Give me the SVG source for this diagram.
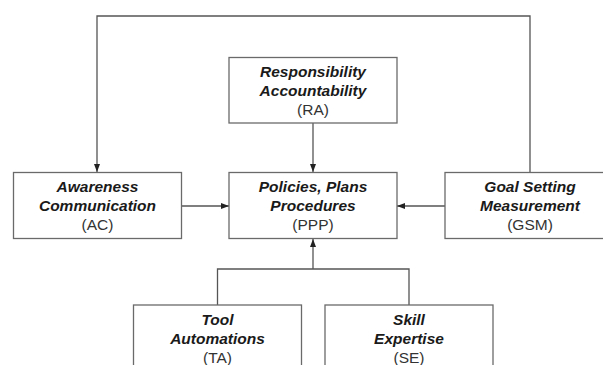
<svg xmlns="http://www.w3.org/2000/svg" width="603" height="365" viewBox="0 0 603 365">
<style>
.box{fill:#fff;stroke:#6a6a6a;stroke-width:1.3}
.t{font-family:"Liberation Sans",Arial,sans-serif;font-size:15.5px;text-anchor:middle;fill:#1a1a1a}
.b{font-weight:bold;font-style:italic}
.n{fill:#333}
.c{fill:none;stroke:#555;stroke-width:1.3}
</style>
<defs>
<marker id="ah" viewBox="0 0 8 8" refX="8" refY="4" markerWidth="8" markerHeight="8" markerUnits="userSpaceOnUse" orient="auto">
<path d="M0,1 L8,4 L0,7 Z" fill="#222"/>
</marker>
</defs>
<rect width="603" height="365" fill="#fff"/>
<g id="connectors">
<polyline class="c" points="530,172 530,16 97,16 97,172" marker-end="url(#ah)"/>
<line class="c" x1="313" y1="123" x2="313" y2="172" marker-end="url(#ah)"/>
<line class="c" x1="182" y1="206" x2="229" y2="206" marker-end="url(#ah)"/>
<line class="c" x1="445" y1="206" x2="397" y2="206" marker-end="url(#ah)"/>
<polyline class="c" points="217.5,305 217.5,269 409,269 409,305"/>
<line class="c" x1="313" y1="269" x2="313" y2="239" marker-end="url(#ah)"/>
</g>
<g id="RA">
<rect class="box" x="229" y="57.5" width="168" height="65.5"/>
<text class="t b" x="313" y="77">Responsibility</text>
<text class="t b" x="313" y="96">Accountability</text>
<text class="t n" x="313" y="114.5">(RA)</text>
</g>
<g id="AC">
<rect class="box" x="13.5" y="172.5" width="168" height="66"/>
<text class="t b" x="97.5" y="192">Awareness</text>
<text class="t b" x="97.5" y="211">Communication</text>
<text class="t n" x="97.5" y="229.5">(AC)</text>
</g>
<g id="PPP">
<rect class="box" x="229" y="172.5" width="168" height="66"/>
<text class="t b" x="313" y="192">Policies, Plans</text>
<text class="t b" x="313" y="211">Procedures</text>
<text class="t n" x="313" y="229.5">(PPP)</text>
</g>
<g id="GSM">
<rect class="box" x="445" y="172.5" width="170" height="66"/>
<text class="t b" x="530" y="192">Goal Setting</text>
<text class="t b" x="530" y="211">Measurement</text>
<text class="t n" x="530" y="229.5">(GSM)</text>
</g>
<g id="TA">
<rect class="box" x="133.5" y="305" width="168" height="70"/>
<text class="t b" x="217.5" y="325">Tool</text>
<text class="t b" x="217.5" y="344">Automations</text>
<text class="t n" x="217.5" y="362.5">(TA)</text>
</g>
<g id="SE">
<rect class="box" x="325" y="305" width="168" height="70"/>
<text class="t b" x="409" y="325">Skill</text>
<text class="t b" x="409" y="344">Expertise</text>
<text class="t n" x="409" y="362.5">(SE)</text>
</g>
</svg>
